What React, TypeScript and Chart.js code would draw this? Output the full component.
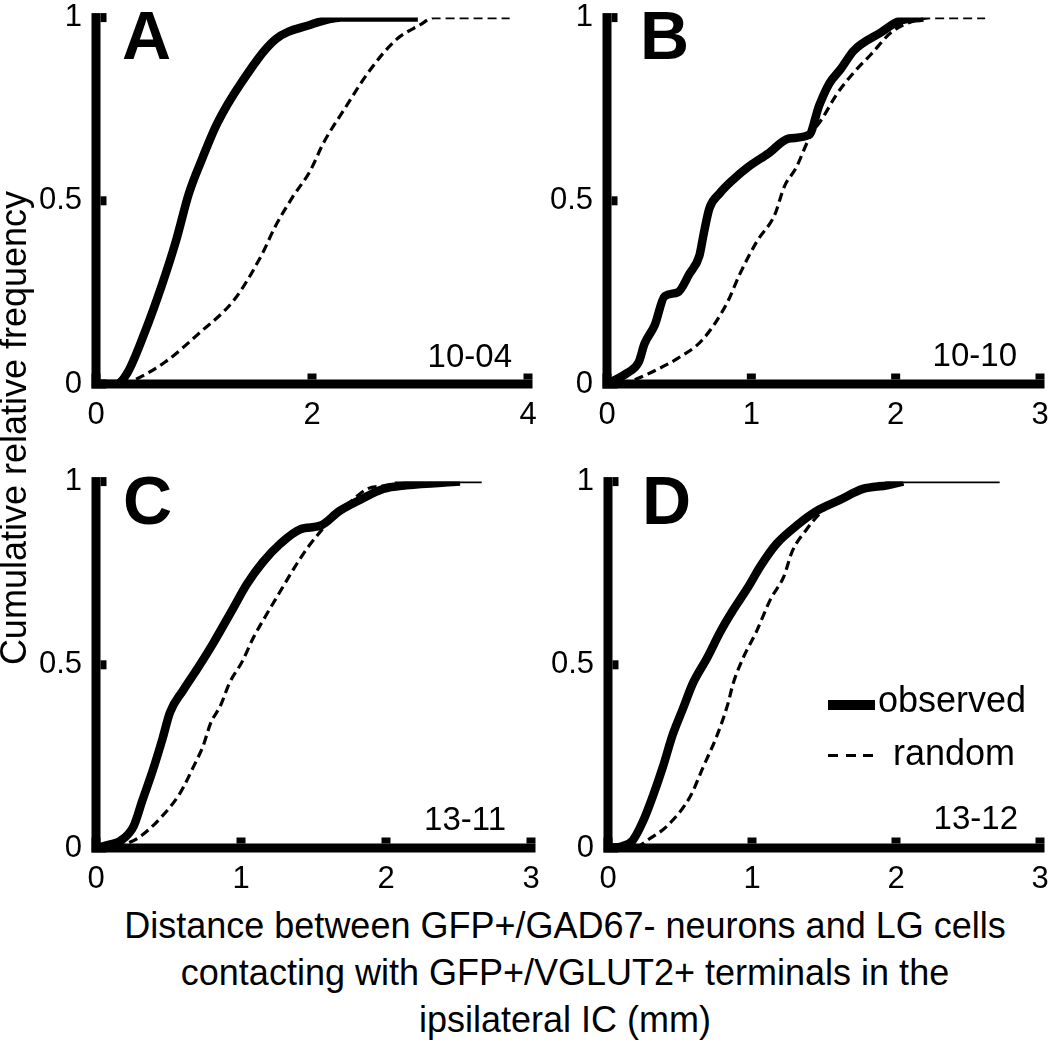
import React, { useEffect, useRef } from "react";
import { Chart, registerables } from "chart.js";

Chart.register(...registerables);

const FONT = '"Liberation Sans", Arial, Helvetica, sans-serif';

// ---------- Data ----------
const yTickValues = [0, 0.5, 1];
const xTicksA = [0, 2, 4];
const xTicksBCD = [0, 1, 2, 3];

// Panel A (10-04)
const aObsX = [0, 0.19, 0.29, 0.45, 0.61, 0.74, 0.86, 0.99, 1.12, 1.34, 1.66, 1.98, 2.27, 2.98];
const aObsY = [0, 0.0, 0.03, 0.14, 0.27, 0.39, 0.52, 0.62, 0.71, 0.82, 0.94, 0.98, 1.0, 1.0];
const aRndX = [0.25, 0.35, 0.64, 0.96, 1.28, 1.53, 1.66, 1.82, 1.98, 2.11, 2.3, 2.52, 2.78, 3.0, 3.13, 3.83];
const aRndY = [0, 0.01, 0.06, 0.14, 0.23, 0.35, 0.43, 0.51, 0.58, 0.66, 0.75, 0.85, 0.94, 0.98, 1.0, 1.0];

// Panel B (10-10)
const bObsX = [0, 0.14, 0.22, 0.26, 0.33, 0.4, 0.49, 0.57, 0.64, 0.67, 0.71, 0.78, 0.88, 0.97, 1.12, 1.26, 1.4, 1.47, 1.54, 1.62, 1.71, 1.9, 2.02, 2.19];
const bObsY = [0, 0.03, 0.06, 0.11, 0.16, 0.24, 0.25, 0.3, 0.35, 0.41, 0.48, 0.52, 0.56, 0.59, 0.63, 0.67, 0.68, 0.76, 0.82, 0.86, 0.91, 0.96, 0.99, 1.0];
const bRndX = [0.1, 0.18, 0.35, 0.49, 0.66, 0.83, 0.92, 1.04, 1.16, 1.23, 1.31, 1.4, 1.5, 1.59, 1.71, 1.83, 1.97, 2.12, 2.26, 2.62];
const bRndY = [0, 0.01, 0.04, 0.07, 0.12, 0.22, 0.3, 0.39, 0.46, 0.54, 0.59, 0.67, 0.73, 0.79, 0.85, 0.9, 0.96, 0.99, 1.0, 1.0];

// Panel C (13-11)
const cObsX = [0, 0.1, 0.17, 0.26, 0.32, 0.39, 0.46, 0.51, 0.6, 0.7, 0.81, 0.94, 1.04, 1.15, 1.27, 1.41, 1.55, 1.68, 1.82, 1.98, 2.14, 2.51];
const cObsY = [0, 0.01, 0.02, 0.06, 0.13, 0.21, 0.3, 0.37, 0.43, 0.49, 0.56, 0.65, 0.72, 0.78, 0.83, 0.87, 0.88, 0.92, 0.95, 0.98, 0.99, 1.0];
const cRndX = [0.14, 0.3, 0.44, 0.58, 0.67, 0.74, 0.79, 0.86, 0.92, 1.01, 1.08, 1.18, 1.27, 1.36, 1.46, 1.54, 1.63, 1.77, 1.87, 2.01, 2.1, 2.66];
const cRndY = [0, 0.03, 0.08, 0.15, 0.22, 0.28, 0.34, 0.39, 0.45, 0.51, 0.57, 0.64, 0.7, 0.76, 0.82, 0.86, 0.9, 0.95, 0.98, 0.99, 1.0, 1.0];

// Panel D (13-12)
const dObsX = [0, 0.1, 0.17, 0.24, 0.31, 0.38, 0.45, 0.52, 0.59, 0.69, 0.78, 0.87, 0.97, 1.06, 1.17, 1.31, 1.45, 1.61, 1.77, 1.94, 2.05];
const dObsY = [0, 0.005, 0.02, 0.07, 0.14, 0.22, 0.31, 0.38, 0.45, 0.52, 0.59, 0.65, 0.71, 0.77, 0.83, 0.88, 0.92, 0.95, 0.98, 0.99, 1.0];
const dRndX = [0.2, 0.27, 0.41, 0.57, 0.66, 0.76, 0.83, 0.87, 0.94, 1.03, 1.13, 1.22, 1.28, 1.38, 1.49, 1.66, 1.82, 1.93, 2.72];
const dRndY = [0, 0.02, 0.06, 0.14, 0.22, 0.31, 0.39, 0.45, 0.52, 0.59, 0.68, 0.74, 0.81, 0.87, 0.92, 0.96, 0.98, 1.0, 1.0];

const seriesLabels = ["observed", "random"];

// ---------- Layout ----------
type PanelCfg = {
  L: number; T: number; R: number; B: number;
  xMax: number; xTicks: number[];
  obsX: number[]; obsY: number[]; rndX: number[]; rndY: number[];
  solidTail: boolean;
};

const panels: PanelCfg[] = [
  { L: 96, T: 14.5, R: 528, B: 383.5, xMax: 4, xTicks: xTicksA, obsX: aObsX, obsY: aObsY, rndX: aRndX, rndY: aRndY, solidTail: false },
  { L: 607, T: 14.5, R: 1040, B: 383.5, xMax: 3, xTicks: xTicksBCD, obsX: bObsX, obsY: bObsY, rndX: bRndX, rndY: bRndY, solidTail: false },
  { L: 96, T: 479, R: 531, B: 848, xMax: 3, xTicks: xTicksBCD, obsX: cObsX, obsY: cObsY, rndX: cRndX, rndY: cRndY, solidTail: true },
  { L: 608, T: 479, R: 1040, B: 848, xMax: 3, xTicks: xTicksBCD, obsX: dObsX, obsY: dObsY, rndX: dRndX, rndY: dRndY, solidTail: true },
];

const Y_AXIS_W = 96;
const PAD_TOP = 30;
const PAD_RIGHT = 24;
const X_AXIS_H = 50;
const AXIS_LW = 9;
const TICK_LEN = 6;

const axesPlugin = {
  id: "matlabAxes",
  afterDatasetsDraw(chart: any) {
    const { ctx, chartArea } = chart;
    const xs = chart.scales.x;
    const ys = chart.scales.y;
    const h = AXIS_LW / 2;
    ctx.save();
    ctx.fillStyle = "#000";
    const yTop = ys.getPixelForValue(1) - h;
    const yBot = chartArea.bottom + h;
    const xLeft = chartArea.left - h;
    const xRight = xs.getPixelForValue(xs.max) + h;
    ctx.fillRect(xLeft, yTop, AXIS_LW, yBot - yTop);
    ctx.fillRect(xLeft, chartArea.bottom - h, xRight - xLeft, AXIS_LW);
    xs.ticks.forEach((t: any) => {
      const px = xs.getPixelForValue(t.value);
      ctx.fillRect(px - h, chartArea.bottom - h - TICK_LEN, AXIS_LW, TICK_LEN);
    });
    ys.ticks.forEach((t: any) => {
      const py = ys.getPixelForValue(t.value);
      ctx.fillRect(chartArea.left + h, py - h, TICK_LEN, AXIS_LW);
    });
    ctx.restore();
  },
};

function Panel({ cfg }: { cfg: PanelCfg }) {
  const ref = useRef<HTMLCanvasElement | null>(null);
  const width = cfg.R - cfg.L + Y_AXIS_W + PAD_RIGHT;
  const height = cfg.B - cfg.T + PAD_TOP + X_AXIS_H;

  useEffect(() => {
    if (!ref.current) return;
    const pts = (xs: number[], ys: number[]) => xs.map((x, i) => ({ x, y: ys[i] }));
    const dash = [9, 5];
    const chart = new Chart(ref.current, {
      type: "line",
      data: {
        datasets: [
          {
            label: seriesLabels[1],
            data: pts(cfg.rndX, cfg.rndY),
            borderColor: "#000",
            borderWidth: 3.2,
            borderDash: dash,
            pointRadius: 0,
            cubicInterpolationMode: "monotone",
            fill: false,
            segment: cfg.solidTail
              ? {
                  borderDash: (c: any) => (c.p0.parsed.y >= 1 && c.p1.parsed.y >= 1 ? [] : dash),
                }
              : undefined,
          } as any,
          {
            label: seriesLabels[0],
            data: pts(cfg.obsX, cfg.obsY),
            borderColor: "#000",
            borderWidth: 8.5,
            pointRadius: 0,
            cubicInterpolationMode: "monotone",
            fill: false,
          },
        ],
      },
      options: {
        animation: false,
        responsive: false,
        devicePixelRatio: 1,
        layout: { padding: { left: 0, top: PAD_TOP, right: PAD_RIGHT, bottom: 0 } },
        plugins: { legend: { display: false }, tooltip: { enabled: false } },
        scales: {
          x: {
            type: "linear",
            min: 0,
            max: cfg.xMax,
            grid: { display: false, drawTicks: false },
            border: { display: false },
            afterBuildTicks: (s: any) => {
              s.ticks = cfg.xTicks.map((v) => ({ value: v }));
            },
            afterFit: (s: any) => {
              s.height = X_AXIS_H;
            },
            ticks: {
              font: { family: FONT, size: 31 },
              color: "#000",
              padding: 13,
              maxRotation: 0,
              autoSkip: false,
              callback: (v: any) => String(v),
            },
          },
          y: {
            type: "linear",
            min: 0,
            max: 1,
            grid: { display: false, drawTicks: false },
            border: { display: false },
            afterBuildTicks: (s: any) => {
              s.ticks = yTickValues.map((v) => ({ value: v }));
            },
            afterFit: (s: any) => {
              s.width = Y_AXIS_W;
            },
            ticks: {
              font: { family: FONT, size: 31 },
              color: "#000",
              padding: 14,
              autoSkip: false,
              callback: (v: any) => String(v),
            },
          },
        },
      } as any,
      plugins: [axesPlugin],
    });
    return () => chart.destroy();
  }, [cfg]);

  return (
    <canvas
      ref={ref}
      width={width}
      height={height}
      style={{
        position: "absolute",
        left: cfg.L - Y_AXIS_W,
        top: cfg.T - PAD_TOP,
        width,
        height,
      }}
    />
  );
}

function Txt({
  x, y, text, size, bold, align = "left",
}: { x: number; y: number; text: string; size: number; bold?: boolean; align?: "left" | "right" | "center" }) {
  const top = y - 0.8465 * size;
  const style: any = {
    position: "absolute",
    top,
    fontFamily: FONT,
    fontSize: size,
    lineHeight: `${size}px`,
    fontWeight: bold ? "bold" : "normal",
    whiteSpace: "nowrap",
    color: "#000",
  };
  if (align === "left") style.left = x;
  else if (align === "right") style.right = 1050 - x;
  else {
    style.left = x - 600;
    style.width = 1200;
    style.textAlign = "center";
  }
  return <div style={style}>{text}</div>;
}

const panelLetters = ["A", "B", "C", "D"];
const panelIds = ["10-04", "10-10", "13-11", "13-12"];
const xTitleLines = [
  "Distance between GFP+/GAD67- neurons and LG cells",
  "contacting with GFP+/VGLUT2+ terminals in the",
  "ipsilateral IC (mm)",
];
const yTitle = "Cumulative relative frequency";

export default function App() {
  const letterPos = [
    [122, 59], [640, 59], [123, 524], [642, 524],
  ];
  const idPos = [
    [512, 367], [1017, 366], [506, 830], [1018, 829],
  ];
  return (
    <div style={{ position: "absolute", left: 0, top: 0, width: 1050, height: 1042, background: "#fff", overflow: "hidden" }}>
      {panels.map((p, i) => (
        <Panel key={i} cfg={p} />
      ))}
      {panelLetters.map((l, i) => (
        <Txt key={l} x={letterPos[i][0]} y={letterPos[i][1]} text={l} size={68} bold />
      ))}
      {panelIds.map((t, i) => (
        <Txt key={t} x={idPos[i][0]} y={idPos[i][1]} text={t} size={33} align="right" />
      ))}
      <div style={{ position: "absolute", left: 828, top: 700, width: 47, height: 10, background: "#000" }} />
      {[0, 1, 2].map((k) => (
        <div key={k} style={{ position: "absolute", left: 828 + k * 17.5, top: 753.5, width: 10, height: 3, background: "#000" }} />
      ))}
      <Txt x={878} y={712} text={seriesLabels[0]} size={36} />
      <Txt x={893} y={765} text={seriesLabels[1]} size={36} />
      {xTitleLines.map((t, i) => (
        <Txt key={i} x={565} y={938 + i * 47} text={t} size={36} align="center" />
      ))}
      <div
        style={{
          position: "absolute",
          left: 14 - 300,
          top: 428 - 18,
          width: 600,
          height: 36,
          lineHeight: "36px",
          fontSize: 36,
          fontFamily: FONT,
          textAlign: "center",
          whiteSpace: "nowrap",
          transform: "rotate(-90deg)",
          transformOrigin: "50% 50%",
          color: "#000",
        }}
      >
        {yTitle}
      </div>
    </div>
  );
}
